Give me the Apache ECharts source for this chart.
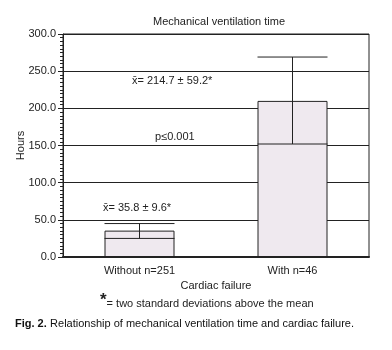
<!DOCTYPE html>
<html>
<head>
<meta charset="utf-8">
<script src="https://cdn.jsdelivr.net/npm/echarts@6/dist/echarts.min.js"></script>
<style>
  html, body { margin: 0; padding: 0; background: #fff; }
  #chart { width: 392px; height: 350px; }
</style>
</head>
<body>
<div id="chart"></div>
<script>
// categories and values (hours)
var groups = ["Without n=251", "With n=46"];
var means = [35.5, 210];
var lowerSD = [25, 152];
var upperSD = [45, 269];
var yTicks = [0, 50, 100, 150, 200, 250, 300];

var barW = 70;
var ink = "#222";
var font = "'Liberation Sans', Arial, sans-serif";

var chart = echarts.init(document.getElementById("chart"));

var option = {
  backgroundColor: "#fff",
  animation: false,
  textStyle: { fontFamily: font },
  title: {
    text: "Mechanical ventilation time",
    left: 214,
    textAlign: "center",
    top: 11,
    textStyle: { fontSize: 11, fontWeight: "normal", color: ink, fontFamily: font }
  },
  grid: {
    left: 63, right: 23, top: 34, bottom: 93,
    show: true, borderColor: ink, borderWidth: 1, backgroundColor: "transparent"
  },
  xAxis: {
    type: "category",
    data: groups,
    name: "Cardiac failure",
    nameLocation: "middle",
    nameGap: 23,
    nameTextStyle: { fontSize: 11, color: ink, fontFamily: font },
    axisLine: { lineStyle: { color: ink, width: 2 } },
    axisTick: { show: false },
    axisLabel: { fontSize: 11, color: ink, margin: 8, fontFamily: font }
  },
  yAxis: {
    type: "value",
    min: yTicks[0],
    max: yTicks[yTicks.length - 1],
    interval: 50,
    name: "Hours",
    nameLocation: "middle",
    nameGap: 37,
    nameMoveOverlap: false,
    nameTextStyle: { fontSize: 11, color: ink, fontFamily: font },
    axisLine: { show: true, lineStyle: { color: ink, width: 1 } },
    axisTick: { show: true, length: 5, lineStyle: { color: ink } },
    minorTick: { show: true, splitNumber: 10, length: 3, lineStyle: { color: ink } },
    splitLine: { show: true, lineStyle: { color: ink, width: 1 } },
    axisLabel: {
      fontSize: 11, color: ink, margin: 7, fontFamily: font,
      formatter: function (v) { return v.toFixed(1); }
    }
  },
  series: [
    {
      type: "bar",
      data: means,
      barWidth: barW,
      itemStyle: { color: "#efe9ef", borderColor: ink, borderWidth: 1 },
      z: 2
    },
    {
      // SD whisker: line across the bar at the lower value, stem, cap at upper value
      type: "custom",
      data: groups.map(function (g, i) { return [i, lowerSD[i], upperSD[i]]; }),
      renderItem: function (params, api) {
        var lo = api.coord([api.value(0), api.value(1)]);
        var hi = api.coord([api.value(0), api.value(2)]);
        var h = barW / 2;
        var st = { stroke: ink, lineWidth: 1 };
        return {
          type: "group",
          children: [
            { type: "line", shape: { x1: lo[0] - h, y1: lo[1], x2: lo[0] + h, y2: lo[1] }, style: st },
            { type: "line", shape: { x1: lo[0], y1: lo[1], x2: hi[0], y2: hi[1] }, style: st },
            { type: "line", shape: { x1: hi[0] - h, y1: hi[1], x2: hi[0] + h, y2: hi[1] }, style: st }
          ]
        };
      },
      z: 3
    }
  ],
  graphic: [
    {
      type: "text", left: 132, top: 75,
      style: { text: "x\u0304= 214.7 \u00b1 59.2*", fontSize: 11, fill: ink, font: "11px " + font }
    },
    {
      type: "text", left: 155, top: 131,
      style: { text: "p\u22640.001", fontSize: 11, fill: ink, font: "11px " + font }
    },
    {
      type: "text", left: 103, top: 202,
      style: { text: "x\u0304= 35.8 \u00b1 9.6*", fontSize: 11, fill: ink, font: "11px " + font }
    },
    {
      type: "text", left: 100, top: 292,
      style: {
        text: "{s|*}{t|= two standard deviations above the mean}",
        rich: {
          s: { fontSize: 17, fontWeight: "bold", fill: ink, fontFamily: font, verticalAlign: "top" },
          t: { fontSize: 11, fill: ink, fontFamily: font, verticalAlign: "bottom" }
        }
      }
    },
    {
      type: "text", left: 15, top: 318,
      style: {
        text: "{b|Fig. 2.} {t|Relationship of mechanical ventilation time and cardiac failure.}",
        rich: {
          b: { fontSize: 11, fontWeight: "bold", fill: "#111", fontFamily: font },
          t: { fontSize: 11, fill: "#111", fontFamily: font }
        }
      }
    }
  ]
};

chart.setOption(option);
</script>
</body>
</html>
